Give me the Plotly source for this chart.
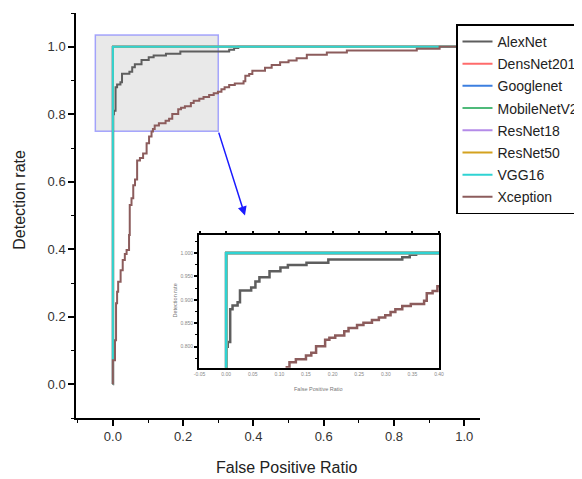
import plotly.graph_objects as go

# ---------------- data ----------------
series_names = ["AlexNet", "DensNet201", "Googlenet", "MobileNetV2",
                "ResNet18", "ResNet50", "VGG16", "Xception"]
series_colors = ["#5e5e5e", "#ff6b6b", "#3c7fe0", "#4fba7a",
                 "#b48be8", "#d4a21f", "#2fd3d3", "#8c5c5c"]

alexnet_fpr = [0.0, 0.001, 0.003, 0.0076, 0.012, 0.0215, 0.026, 0.047, 0.055, 0.0625,
               0.0815, 0.102, 0.116, 0.151, 0.192, 0.331, 0.345, 0.357, 1.0]
alexnet_tpr = [0.0, 0.80, 0.81, 0.88, 0.888, 0.895, 0.92, 0.926, 0.939, 0.948,
               0.961, 0.969, 0.974, 0.979, 0.986, 0.991, 0.996, 1.0, 1.0]

perfect_fpr = [0.0, 0.0, 1.0]
perfect_tpr = [0.0, 1.0, 1.0]

xception_fpr = [0.0, 0.0, 0.006, 0.009, 0.012, 0.015, 0.022, 0.028, 0.034, 0.039,
                0.046, 0.048, 0.053, 0.058, 0.063, 0.069, 0.077, 0.086, 0.096, 0.103,
                0.11, 0.114, 0.119, 0.131, 0.15, 0.16, 0.169, 0.186, 0.194, 0.205,
                0.222, 0.23, 0.246, 0.258, 0.274, 0.287, 0.299, 0.309, 0.318, 0.331,
                0.347, 0.372, 0.377, 0.388, 0.397, 0.433, 0.452, 0.476, 0.5, 0.523,
                0.552, 0.609, 0.666, 0.865, 0.93, 1.0]
xception_tpr = [0.0, 0.071, 0.13, 0.24, 0.274, 0.304, 0.338, 0.368, 0.386, 0.398,
                0.442, 0.531, 0.551, 0.59, 0.607, 0.663, 0.67, 0.684, 0.714, 0.734,
                0.749, 0.756, 0.767, 0.773, 0.781, 0.787, 0.801, 0.815, 0.819, 0.824,
                0.833, 0.84, 0.846, 0.851, 0.857, 0.862, 0.867, 0.874, 0.88, 0.887,
                0.891, 0.898, 0.914, 0.919, 0.929, 0.938, 0.946, 0.954, 0.959, 0.966,
                0.976, 0.983, 0.989, 0.994, 1.0, 1.0]

series_fpr = [alexnet_fpr, perfect_fpr, perfect_fpr, perfect_fpr,
              perfect_fpr, perfect_fpr, perfect_fpr, xception_fpr]
series_tpr = [alexnet_tpr, perfect_tpr, perfect_tpr, perfect_tpr,
              perfect_tpr, perfect_tpr, perfect_tpr, xception_tpr]

main_xticks = [0.0, 0.2, 0.4, 0.6, 0.8, 1.0]
main_xlabels = ["0.0", "0.2", "0.4", "0.6", "0.8", "1.0"]
main_yticks = [0.0, 0.2, 0.4, 0.6, 0.8, 1.0]
main_ylabels = ["0.0", "0.2", "0.4", "0.6", "0.8", "1.0"]
inset_xticks = [-0.05, 0.0, 0.05, 0.10, 0.15, 0.20, 0.25, 0.30, 0.35, 0.40]
inset_xlabels = ["-0.05", "0.00", "0.05", "0.10", "0.15", "0.20", "0.25", "0.30", "0.35", "0.40"]
inset_yticks = [0.80, 0.85, 0.90, 0.95, 1.00]
inset_ylabels = ["0.800", "0.850", "0.900", "0.950", "1.000"]

zoom_box = dict(x0=-0.05, x1=0.30, y0=0.75, y1=1.035)

# ---------------- figure ----------------
fig = go.Figure()
FONT = "Liberation Sans, Arial, sans-serif"

for name, col, fx, ty in zip(series_names, series_colors, series_fpr, series_tpr):
    fig.add_trace(go.Scatter(x=fx, y=ty, mode="lines", name=name, legendgroup=name,
                             line=dict(color=col, width=2, shape="hv"),
                             xaxis="x", yaxis="y"))

for name, col, fx, ty in zip(series_names, series_colors, series_fpr, series_tpr):
    fig.add_trace(go.Scatter(x=fx, y=ty, mode="lines", name=name, showlegend=False,
                             line=dict(color=col, width=2.5, shape="hv"),
                             xaxis="x2", yaxis="y2", cliponaxis=True))

# invisible trace to host top-tick axis of inset
fig.add_trace(go.Scatter(x=[inset_xticks[0]], y=[1.0], mode="lines", showlegend=False,
                         xaxis="x3", yaxis="y2", hoverinfo="skip",
                         line=dict(color="rgba(0,0,0,0)")))

fig.add_shape(type="rect", xref="x", yref="y", layer="below",
              fillcolor="rgba(215,215,215,0.55)",
              line=dict(color="rgba(110,110,255,0.6)", width=1.5), **zoom_box)

fig.add_annotation(x=0.376, y=0.50, ax=zoom_box["x1"], ay=zoom_box["y0"],
                   xref="x", yref="y", axref="x", ayref="y", text="",
                   showarrow=True, arrowhead=2, arrowsize=1.2, arrowwidth=1.5,
                   arrowcolor="#1a1aff")

# axis titles as annotations
fig.add_annotation(text="False Positive Ratio", xref="paper", yref="paper",
                   x=0.52, y=-0.121, xanchor="center", yanchor="middle", showarrow=False,
                   font=dict(family=FONT, size=16, color="#222"))
fig.add_annotation(text="Detection rate", xref="paper", yref="paper",
                   x=-0.14, y=0.54, xanchor="center", yanchor="middle", showarrow=False,
                   textangle=-90, font=dict(family=FONT, size=16, color="#222"))
fig.add_annotation(text="False Positive Ratio", xref="paper", yref="paper",
                   x=0.6, y=0.072, xanchor="center", yanchor="middle", showarrow=False,
                   font=dict(family=FONT, size=5.5, color="#777"))
fig.add_annotation(text="Detection rate", xref="paper", yref="paper",
                   x=0.245, y=0.29, xanchor="center", yanchor="middle", showarrow=False,
                   textangle=-90, font=dict(family=FONT, size=5.5, color="#777"))

axis_common = dict(showgrid=False, zeroline=False, showline=True,
                   linecolor="black", linewidth=1.5, ticks="outside",
                   tickcolor="black", tickwidth=1.5)

# the page body adds an 8px offset, so the figure is sized/margined to compensate
fig.update_layout(
    width=574, height=471,
    margin=dict(l=68, r=102, t=5, b=61, autoexpand=False),
    paper_bgcolor="white", plot_bgcolor="white",
    font=dict(family=FONT, color="#333"),
    xaxis=dict(**axis_common, range=[-0.105, 1.045], domain=[0, 1],
               tickvals=main_xticks, ticktext=main_xlabels, ticklen=6,
               tickfont=dict(size=13, color="#333"),
               minor=dict(dtick=0.1, tick0=0.0, ticks="outside", ticklen=3,
                          tickcolor="black", tickwidth=1.2)),
    yaxis=dict(**axis_common, range=[-0.1, 1.1], domain=[0, 1],
               tickvals=main_yticks, ticktext=main_ylabels, ticklen=6,
               tickfont=dict(size=13, color="#333"),
               minor=dict(dtick=0.1, tick0=0.0, ticks="outside", ticklen=3,
                          tickcolor="black", tickwidth=1.2)),
    xaxis2=dict(showgrid=False, zeroline=False, showline=True, mirror=True,
                linecolor="black", linewidth=2, ticks="", anchor="y2",
                range=[-0.051, 0.40], domain=[0.3045, 0.8985],
                tickvals=inset_xticks, ticktext=inset_xlabels,
                tickfont=dict(size=5, color="#888")),
    xaxis3=dict(showgrid=False, zeroline=False, showline=False,
                overlaying="x2", anchor="y2", side="top",
                range=[-0.051, 0.40], showticklabels=False,
                tickvals=inset_xticks, ticks="outside", ticklen=3,
                tickcolor="black", tickwidth=1.5),
    yaxis2=dict(showgrid=False, zeroline=False, showline=True, mirror=True,
                linecolor="black", linewidth=2, ticks="outside", ticklen=3,
                tickcolor="black", tickwidth=1.5, anchor="x2",
                range=[0.755, 1.038], domain=[0.124, 0.4516],
                tickvals=inset_yticks, ticktext=inset_ylabels,
                tickfont=dict(size=5, color="#888"),
                minor=dict(dtick=0.025, tick0=0.0, ticks="outside", ticklen=2,
                           tickcolor="black", tickwidth=1.2)),
    legend=dict(x=0.9406, y=0.972, xanchor="left", yanchor="top",
                bgcolor="white", bordercolor="black", borderwidth=1.5,
                font=dict(family=FONT, size=14, color="#222"),
                tracegroupgap=1, itemwidth=30),
    showlegend=True,
)

fig.write_html("out.html")
